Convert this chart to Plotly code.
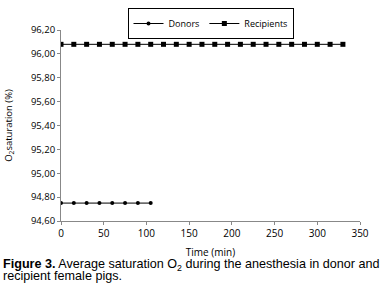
import plotly.graph_objects as go

time_donors = [0, 15, 30, 45, 60, 75, 90, 105]
sat_donors = [94.75, 94.75, 94.75, 94.75, 94.75, 94.75, 94.75, 94.75]
time_recipients = [0, 15, 30, 45, 60, 75, 90, 105, 120, 135, 150, 165, 180,
                   195, 210, 225, 240, 255, 270, 285, 300, 315, 330]
sat_recipients = [96.08] * 23
y_ticks = [94.6, 94.8, 95.0, 95.2, 95.4, 95.6, 95.8, 96.0, 96.2]
x_ticks = [0, 50, 100, 150, 200, 250, 300, 350]

font = "Open Sans"

fig = go.Figure()
fig.add_trace(go.Scatter(x=time_donors, y=sat_donors, name="Donors",
                         mode="lines+markers",
                         line=dict(color="black", width=1),
                         marker=dict(symbol="circle", size=4, color="black")))
fig.add_trace(go.Scatter(x=time_recipients, y=sat_recipients, name="Recipients",
                         mode="lines+markers",
                         line=dict(color="black", width=1),
                         marker=dict(symbol="square", size=5, color="black")))

W, H = 383, 297
L, T, R, B = 61, 30, 23, 76
ph = H - T - B
pw = W - L - R

def fy(y):
    return (T + ph - y) / ph

fig.update_layout(
    width=W, height=H,
    margin=dict(l=L, r=R, t=T, b=B, autoexpand=False),
    paper_bgcolor="white", plot_bgcolor="white",
    separators=",.",
    font=dict(family=font, size=9, color="black"),
    showlegend=True,
    legend=dict(orientation="h", x=0.5, xanchor="center", y=fy(8), yanchor="top",
                bordercolor="black", borderwidth=1, bgcolor="white",
                font=dict(family=font, size=9), itemwidth=30,
                tracegroupgap=0),
    xaxis=dict(range=[0, 350], tickvals=x_ticks, showgrid=False, zeroline=False,
               showline=True, linecolor="#888", linewidth=1, automargin=False,
               ticks="outside", ticklen=3, tickcolor="#888",
               tickfont=dict(family=font, size=10),
               title=dict(text="Time (min)", font=dict(family=font, size=10), standoff=9)),
    yaxis=dict(range=[94.6, 96.2], tickvals=y_ticks, tickformat=".2f",
               showgrid=False, zeroline=False, automargin=False,
               showline=True, linecolor="#888", linewidth=1,
               ticks="outside", ticklen=3, tickcolor="#888",
               tickfont=dict(family=font, size=9.5),
               title=dict(text="O<sub>2</sub>saturation (%)", font=dict(family=font, size=9.5), standoff=16)),
)

fig.add_annotation(
    xref="paper", yref="paper", x=-(L - 1) / pw, y=fy(255), xanchor="left", yanchor="top",
    align="left", showarrow=False,
    text="<b>Figure 3.</b> Average saturation O<sub>2</sub> during the anesthesia in donor and",
    font=dict(family="Liberation Sans", size=12.6, color="black"),
)
fig.add_annotation(
    xref="paper", yref="paper", x=-(L - 1) / pw, y=fy(267), xanchor="left", yanchor="top",
    align="left", showarrow=False,
    text="recipient female pigs.",
    font=dict(family="Liberation Sans", size=12.6, color="black"),
)

fig.write_html("out.html", config={"displayModeBar": False},
               post_script="document.body.style.margin='0';document.body.style.padding='0';")
